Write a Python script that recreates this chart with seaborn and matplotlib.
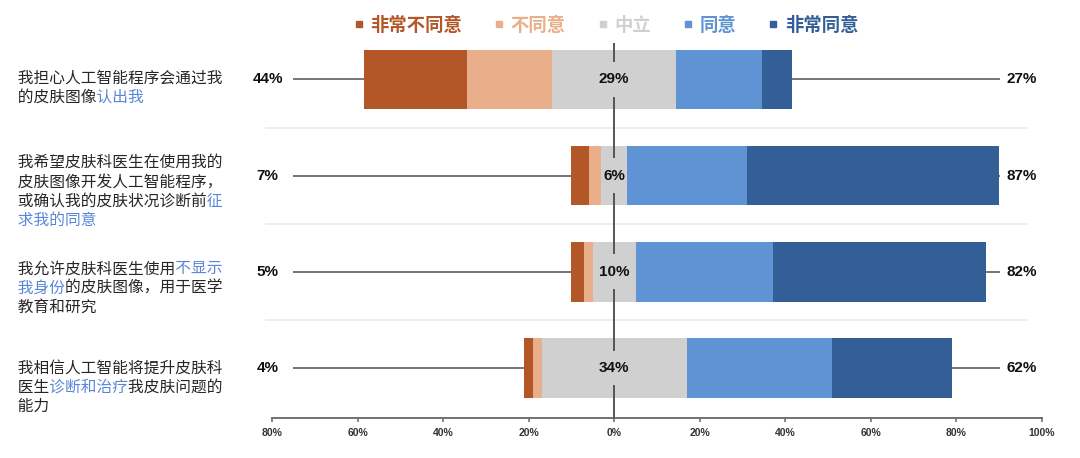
import matplotlib
matplotlib.use("Agg")
import matplotlib.pyplot as plt
import matplotlib.transforms as mtransforms
from matplotlib.lines import Line2D
import seaborn as sns
import numpy as np

# data (percent of respondents)
questions = [
    "我担心人工智能程序会通过我的皮肤图像认出我",
    "我希望皮肤科医生在使用我的皮肤图像开发人工智能程序，或确认我的皮肤状况诊断前征求我的同意",
    "我允许皮肤科医生使用不显示我身份的皮肤图像，用于医学教育和研究",
    "我相信人工智能将提升皮肤科医生诊断和治疗我皮肤问题的能力",
]
strongly_disagree = np.array([24, 4, 3, 2])
disagree = np.array([20, 3, 2, 2])
neutral = np.array([29, 6, 10, 34])
agree = np.array([20, 28, 32, 34])
strongly_agree = np.array([7, 59, 50, 28])

legend_labels = ["非常不同意", "不同意", "中立", "同意", "非常同意"]
colors = ["#b35728", "#e9ae8a", "#d0d0d0", "#5f93d3", "#335f96"]
blue_text = "#5a86d8"
dark_text = "#262626"

# question labels split into lines, with highlighted (blue) pieces
label_lines = [
    [[("我担心人工智能程序会通过我", dark_text)],
     [("的皮肤图像", dark_text), ("认出我", blue_text)]],
    [[("我希望皮肤科医生在使用我的", dark_text)],
     [("皮肤图像开发人工智能程序，", dark_text)],
     [("或确认我的皮肤状况诊断前", dark_text), ("征", blue_text)],
     [("求我的同意", blue_text)]],
    [[("我允许皮肤科医生使用", dark_text), ("不显示", blue_text)],
     [("我身份", blue_text), ("的皮肤图像，用于医学", dark_text)],
     [("教育和研究", dark_text)]],
    [[("我相信人工智能将提升皮肤科", dark_text)],
     [("医生", dark_text), ("诊断和治疗", blue_text), ("我皮肤问题的", dark_text)],
     [("能力", dark_text)]],
]
first_line_px = [-1.5, -13, -3, 0]

sns.set_theme(style="white")
plt.rcParams["font.family"] = ["Liberation Sans", "Noto Sans CJK SC", "DejaVu Sans"]
cjk = ["Noto Sans CJK SC", "DejaVu Sans"]

fig = plt.figure(figsize=(10.8, 4.58), dpi=100)
ax = fig.add_axes([272 / 1080, 1 - 418 / 458, 770 / 1080, 396.3 / 458])

half = neutral / 2
layers = [
    (-(strongly_disagree + disagree + half), colors[0]),
    (-(disagree + half), colors[1]),
    (-half, colors[2]),
    (half + agree + strongly_agree, colors[4]),
    (half + agree, colors[3]),
    (half, colors[2]),
]
for vals, c in layers:
    sns.barplot(x=vals, y=questions, orient="h", color=c, saturation=1,
                width=0.62, errorbar=None, linewidth=0, ax=ax)

ax.set_xlim(-80, 100)
ax.set_ylim(3.52, -0.6)
ax.set_xlabel("")
ax.set_ylabel("")
ax.set_yticks([])

rows = np.arange(len(questions))
left_end = -(strongly_disagree + disagree + half)
right_end = half + agree + strongly_agree
neg_total = strongly_disagree + disagree
pos_total = agree + strongly_agree

# separators between rows
for y in rows[:-1] + 0.5:
    ax.plot([-81.5, 96.5], [y, y], color="#eeeeee", lw=1.5, zorder=0, clip_on=False)

# connector lines and totals
ax.hlines(rows, -75.1, left_end, color="#6b6b6b", lw=1.3, zorder=1)
ax.hlines(rows, right_end, 90.1, color="#6b6b6b", lw=1.3, zorder=1)
for r in rows:
    ax.text(-81, r, f"{neg_total[r]}%", ha="center", va="center",
            fontsize=11, fontweight="bold", color="#111111", clip_on=False)
    ax.text(95.3, r, f"{pos_total[r]}%", ha="center", va="center",
            fontsize=11, fontweight="bold", color="#111111", clip_on=False)

# zero line, broken around the neutral labels
ax.vlines(0, -0.38, 3.52, color="#555555", lw=1.4, zorder=5)
for r in rows:
    ax.plot([0, 0], [r - 0.18, r + 0.18], color=colors[2], lw=4,
            zorder=6, solid_capstyle="butt")
    ax.text(0, r, f"{neutral[r]}%", ha="center", va="center", fontsize=11,
            fontweight="bold", color="#111111", zorder=7)

# x axis
ticks = np.arange(-80, 101, 20)
ax.set_xticks(ticks)
ax.set_xticklabels([f"{abs(t)}%" for t in ticks], fontsize=7.5,
                   fontweight="bold", color="#333333")
for s in ["top", "left", "right"]:
    ax.spines[s].set_visible(False)
ax.spines["bottom"].set_color("#666666")
ax.spines["bottom"].set_linewidth(1.3)
ax.tick_params(axis="x", bottom=True, length=3, width=1.1, color="#666666", pad=4)

# question labels: each coloured piece is padded with ideographic spaces
# so that all pieces of a line share one anchor
fs = 11.3
em_px = fs * 100 / 72
trans = mtransforms.blended_transform_factory(fig.transFigure, ax.transData)
for r, lines in enumerate(label_lines):
    for i, segs in enumerate(lines):
        dy = -(first_line_px[r] + i * 19.3) * 0.72
        n = 0
        for txt, col in segs:
            ax.annotate("\u3000" * (n + 1) + txt, xy=((18 - em_px) / 1080, r),
                        xycoords=trans, xytext=(0, dy), textcoords="offset points",
                        ha="left", va="center", fontsize=fs, color=col,
                        family=cjk, annotation_clip=False)
            n += len(txt)

# legend
handles = [Line2D([], [], ls="none", marker="s", markersize=5, color=c,
                  markerfacecolor=c, markeredgecolor=c) for c in colors]
fig.legend(handles, legend_labels, loc="center", bbox_to_anchor=(0.561, 0.945),
           ncol=5, frameon=False, labelcolor="linecolor", handlelength=0.6,
           handletextpad=0.35, columnspacing=1.7,
           prop={"family": cjk, "size": 13.2, "weight": "bold"})

fig.savefig("out.png", dpi=100)
